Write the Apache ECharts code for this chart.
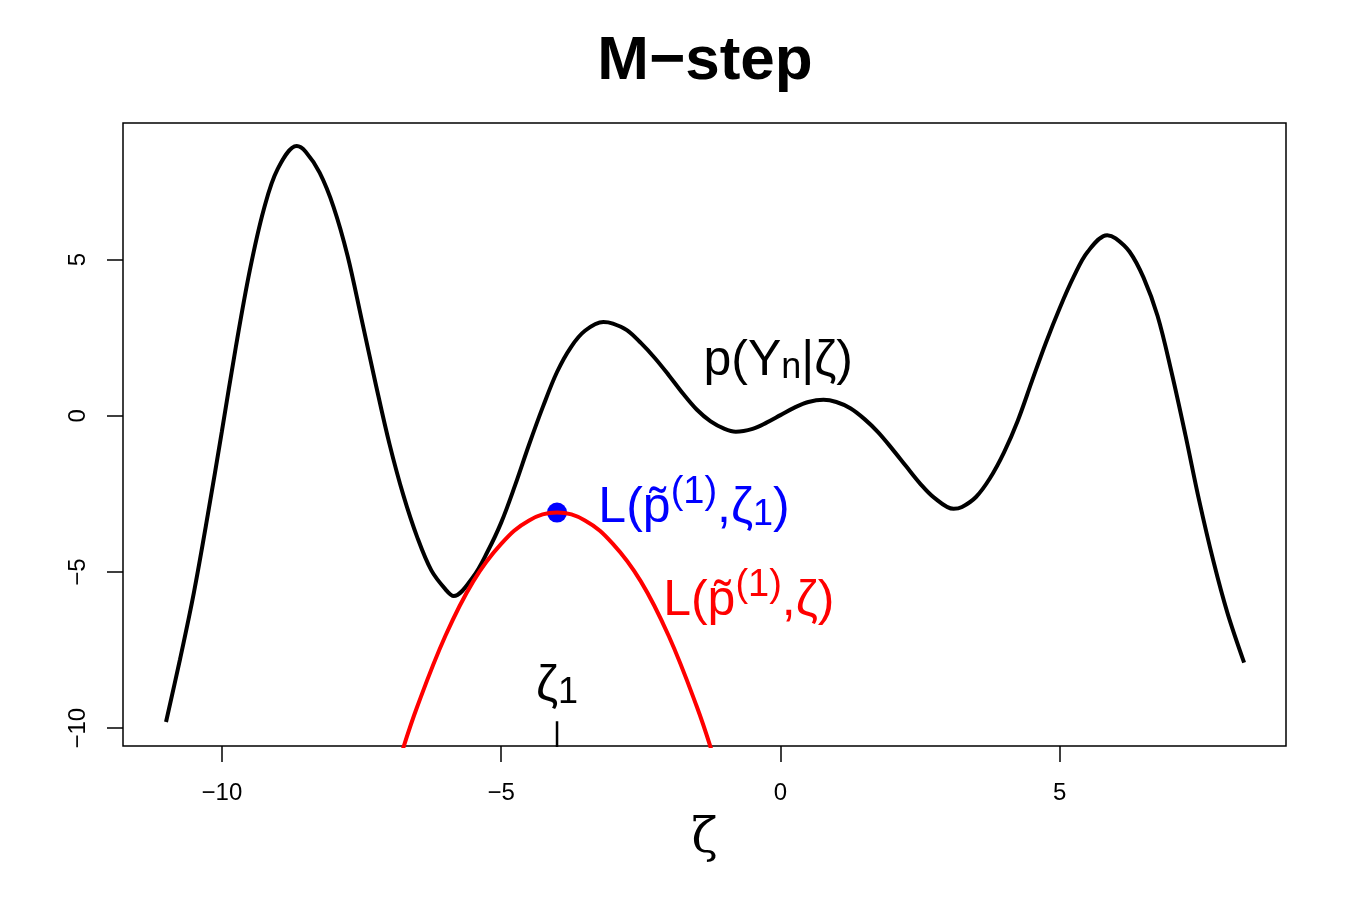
<!DOCTYPE html>
<html>
<head>
<meta charset="utf-8">
<title>M-step</title>
<script src="https://cdn.jsdelivr.net/npm/echarts@6/dist/echarts.min.js"></script>
<style>
  html, body { margin: 0; padding: 0; background: #fff; }
  #chart { width: 1350px; height: 900px; }
</style>
</head>
<body>
<div id="chart"></div>
<script>
// p(Y_n | zeta) (every 0.25, plus the turning points)
const zetaP = [-11, -10.75, -10.5, -10.25, -10, -9.75, -9.5, -9.25, -9,
  -8.66, -8.5, -8.25, -8, -7.75, -7.5, -7.25, -7, -6.75, -6.5, -6.25, -6,
  -5.85, -5.5, -5.25, -5, -4.75, -4.5, -4.25, -4, -3.75, -3.5,
  -3.17, -3, -2.75, -2.5, -2.25, -2, -1.75, -1.5, -1.25, -1,
  -0.8, -0.5, -0.25, 0, 0.25, 0.5,
  0.77, 1, 1.25, 1.5, 1.75, 2, 2.25, 2.5, 2.75,
  3.1, 3.25, 3.5, 3.75, 4, 4.25, 4.5, 4.75, 5, 5.25, 5.5,
  5.85, 6, 6.25, 6.5, 6.75, 7, 7.25, 7.5, 7.75, 8, 8.3]
const logP = [-9.8, -7.8, -5.65, -3.15, -0.5, 2.2, 4.65, 6.6, 7.9,
  8.63, 8.45, 7.78, 6.68, 5.12, 3.1, 1.05, -0.9, -2.55, -3.9, -4.95, -5.55,
  -5.77, -5.15, -4.37, -3.42, -2.22, -0.92, 0.3, 1.4, 2.2, 2.72,
  3.0, 2.95, 2.74, 2.33, 1.85, 1.3, 0.72, 0.2, -0.18, -0.42,
  -0.51, -0.42, -0.22, 0.02, 0.26, 0.44,
  0.51, 0.44, 0.24, -0.1, -0.53, -1.06, -1.62, -2.17, -2.62,
  -2.98, -2.92, -2.6, -2.0, -1.18, -0.15, 1.1, 2.33, 3.45, 4.45, 5.25,
  5.78, 5.68, 5.25, 4.42, 3.2, 1.4, -0.62, -2.75, -4.65, -6.3, -7.9]

// lower bound L(p~(1), zeta)
const zetaL = [-6.8, -6.5, -6, -5.5, -5, -4.5, -4, -3.5, -3, -2.5, -2, -1.5, -1.2]
const lowerL = [-10.9, -9.3, -7.05, -5.3, -4.1, -3.35, -3.1, -3.35, -4.1, -5.3, -7.05, -9.3, -10.9]

// current point zeta_1
const zeta1 = -4.0
const lAtZeta1 = -3.1
const zeta1Tick = [-9.78, -10.6]

const xTicks = [-10, -5, 0, 5]
const yTicks = [-10, -5, 0, 5]

const font = 'Liberation Sans, Arial, sans-serif'
const minus = v => String(v).replace('-', '\u2212')

// rich styles for the math labels (sup / sub shifted inside a 60px line)
function richStyles(color) {
    return {
        m: { fontSize: 50, lineHeight: 60, color: color, fontFamily: font, verticalAlign: 'bottom' },
        sup: { fontSize: 38, lineHeight: 10, color: color, fontFamily: font, verticalAlign: 'top' },
        sub: { fontSize: 36, lineHeight: 24, color: color, fontFamily: font, verticalAlign: 'bottom' }
    }
}

function mathLabel(align, text, color) {
    return {
        show: true, position: 'inside', align: align, verticalAlign: 'middle',
        formatter: text, rich: richStyles(color)
    }
}

const chart = echarts.init(document.getElementById('chart'))

const option = {
    animation: false,
    backgroundColor: '#fff',
    title: {
        text: 'M\u2212step',
        left: 700,
        textAlign: 'center',
        top: 26,
        textStyle: { fontSize: 62, fontWeight: 'bold', color: '#000', fontFamily: font }
    },
    grid: {
        left: 123, right: 64, top: 123, bottom: 154,
        show: true, borderColor: '#000', borderWidth: 1.5
    },
    xAxis: {
        type: 'value',
        min: -11.77,
        max: 9.05,
        axisLine: { show: false, onZero: false },
        axisTick: { show: true, customValues: xTicks, length: 16, lineStyle: { color: '#000', width: 1.5 } },
        axisLabel: { customValues: xTicks, margin: 35, fontSize: 24, color: '#000', fontFamily: font, formatter: minus },
        splitLine: { show: false },
        name: '\u03b6',
        nameLocation: 'middle',
        nameGap: 70,
        nameTextStyle: { fontSize: 48, color: '#000', fontFamily: 'DejaVu Serif, serif' }
    },
    yAxis: {
        type: 'value',
        min: -10.57,
        max: 9.37,
        axisLine: { show: false, onZero: false },
        axisTick: { show: true, customValues: yTicks, length: 16, lineStyle: { color: '#000', width: 1.5 } },
        axisLabel: { customValues: yTicks, rotate: 90, margin: 33, fontSize: 24, color: '#000', fontFamily: font, formatter: minus },
        splitLine: { show: false }
    },
    series: [
        {
            name: 'p(Yn|zeta)',
            type: 'line',
            data: zetaP.map((x, i) => [x, logP[i]]),
            smooth: 0.35,
            showSymbol: false,
            lineStyle: { color: '#000', width: 4 }
        },
        {
            name: 'L(p,zeta)',
            type: 'line',
            data: zetaL.map((x, i) => [x, lowerL[i]]),
            smooth: 0.4,
            showSymbol: false,
            lineStyle: { color: '#ff0000', width: 4 }
        },
        {
            name: 'zeta1 tick',
            type: 'line',
            data: zeta1Tick.map(y => [zeta1, y]),
            showSymbol: false,
            lineStyle: { color: '#000', width: 2.5 }
        },
        {
            name: 'zeta1 point',
            type: 'scatter',
            data: [[zeta1, lAtZeta1]],
            symbolSize: 20,
            itemStyle: { color: '#0000ff', opacity: 1 }
        },
        {
            name: 'labels',
            type: 'scatter',
            symbolSize: 0,
            silent: true,
            itemStyle: { opacity: 1 },
            data: [
                { value: [-0.04, 1.9], label: mathLabel('center', '{m|p(Y}{sub|n}{m||\u03b6)}', '#000') },
                { value: [-3.26, -2.8], label: mathLabel('left', '{m|L(p\u0303}{sup|(1)}{m|,\u03b6}{sub|1}{m|)}', '#0000ff') },
                { value: [-2.1, -5.78], label: mathLabel('left', '{m|L(p\u0303}{sup|(1)}{m|,\u03b6)}', '#ff0000') },
                { value: [zeta1, -8.5], label: mathLabel('center', '{m|\u03b6}{sub|1}', '#000') }
            ]
        }
    ]
}

chart.setOption(option)
</script>
</body>
</html>
